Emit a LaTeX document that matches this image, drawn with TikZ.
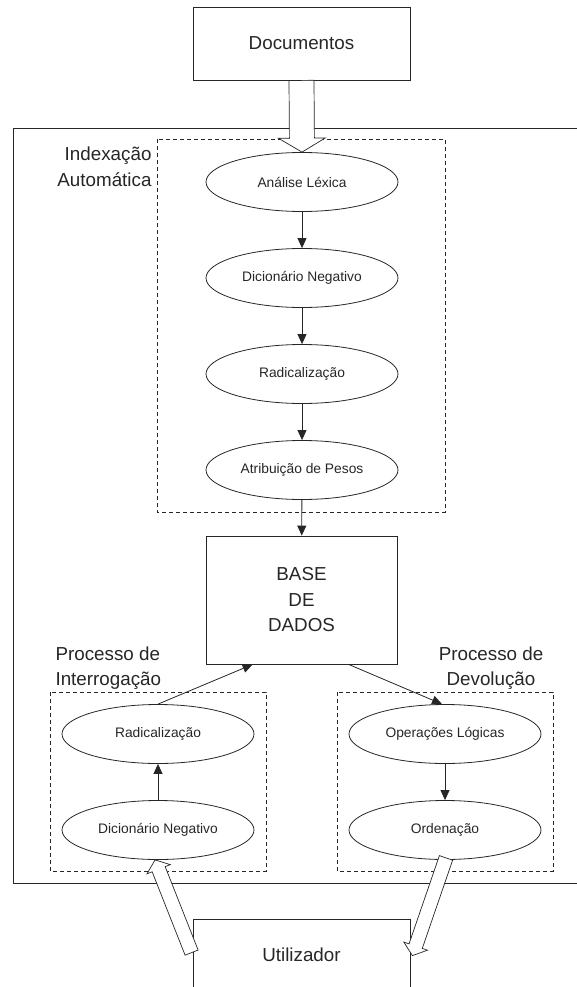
\documentclass[tikz,border=0pt]{standalone}
\usepackage{fontspec}
\setmainfont{Liberation Sans}
\usetikzlibrary{shapes.geometric,arrows.meta,calc}

\definecolor{ink}{HTML}{262626}

% broad hollow arrow: tail, tip, shaft half-width, head half-width, head length
\newcommand\fatarrow[5]{%
  \coordinate (faB) at ($(#2)!#5!(#1)$);
  \draw[fatarrow] ($(#1)!#3!90:(#2)$) -- ($(faB)!#3!-90:(#1)$)
    -- ($(faB)!#4!-90:(#1)$) -- (#2) -- ($(faB)!#4!90:(#1)$)
    -- ($(faB)!#3!90:(#1)$) -- ($(#1)!#3!-90:(#2)$) -- cycle;}

\tikzset{
  every node/.style={text=ink},
  bigtext/.style={font=\fontsize{18.8}{25.5}\selectfont},
  boxnode/.style={draw=ink, line width=0.8pt, rectangle, inner sep=0pt, bigtext, align=center},
  stage/.style={draw=ink, line width=0.8pt, ellipse, minimum width=192pt, minimum height=59pt,
                inner sep=0pt, font=\fontsize{13.8}{16}\selectfont},
  group/.style={draw=ink, line width=0.7pt, dash pattern=on 4pt off 3pt},
  flow/.style={draw=ink, line width=0.8pt, -{Triangle[length=10pt,width=9pt]}},
  fatarrow/.style={draw=ink, fill=white, line width=0.7pt, line join=miter},
  frame/.style={draw=ink, line width=0.9pt},
}

\begin{document}
\begin{tikzpicture}[x=1pt, y=-1pt]
\useasboundingbox (0,0) rectangle (577,987);
\clip (0,0) rectangle (577,987);

% system frame, running off the right edge
\draw[frame] (590,128) -- (13,128) -- (13,883) -- (590,883);

% dashed groups
\draw[group] (157,139) rectangle (445,512);
\draw[group] (50,692) rectangle (266,871);
\draw[group] (337,692) rectangle (553,871);

% group labels
\node[bigtext, align=right, anchor=east] (lblIdx) at (155,167) {Indexação\\Automática};
\node[bigtext, align=left, anchor=west] (lblInt) at (52,668) {Processo de\\Interrogação};
\node[bigtext, align=center] (lblDev) at (491,668) {Processo de\\Devolução};

% boxes
\node[boxnode, minimum width=217pt, minimum height=73pt] (doc) at (301.5,43.5) {Documentos};
\node[boxnode, minimum width=191pt, minimum height=128pt] (base) at (301.5,600) {BASE\\DE\\DADOS};
\node[boxnode, minimum width=217pt, minimum height=71pt] (usr) at (301.5,954.5) {Utilizador};

% indexing chain
\node[stage] (ana) at (302,182) {Análise Léxica};
\node[stage] (dn)  at (302,278) {Dicionário Negativo};
\node[stage] (rad) at (302,374) {Radicalização};
\node[stage] (atr) at (302,470) {Atribuição de Pesos};

% query process
\node[stage] (radL) at (158,734) {Radicalização};
\node[stage] (dnL)  at (158,830) {Dicionário Negativo};

% return process
\node[stage] (ops) at (445,734) {Operações Lógicas};
\node[stage] (ord) at (445,830) {Ordenação};

% thin connectors
\draw[flow] (ana) -- (dn);
\draw[flow] (dn) -- (rad);
\draw[flow] (rad) -- (atr);
\draw[flow] (atr) -- (base);
\draw[flow] (dnL) -- (radL);
\draw[flow] (ops) -- (ord);
\coordinate (bIn)  at ($(base.south west)+(47,0)$);
\coordinate (bOut) at ($(base.south west)+(143,0)$);
\draw[flow] (radL.north) -- (bIn);
\draw[flow] (bOut) -- ($(ops.north)+(-3,0)$);

% broad hollow arrows
\fatarrow{doc.south}{ana.north}{12.5pt}{23.5pt}{14pt}
\coordinate (uTail) at ($(usr.north west)+(-1,34)$);
\coordinate (uTip)  at ($(dnL.south)+(-3,0)$);
\fatarrow{uTail}{uTip}{7pt}{12.5pt}{10pt}
\coordinate (dTail) at ($(ord.south)+(1,-2)$);
\coordinate (dTip)  at ($(usr.north east)+(2,37)$);
\fatarrow{dTail}{dTip}{7pt}{12.5pt}{10pt}
\end{tikzpicture}
\end{document}
